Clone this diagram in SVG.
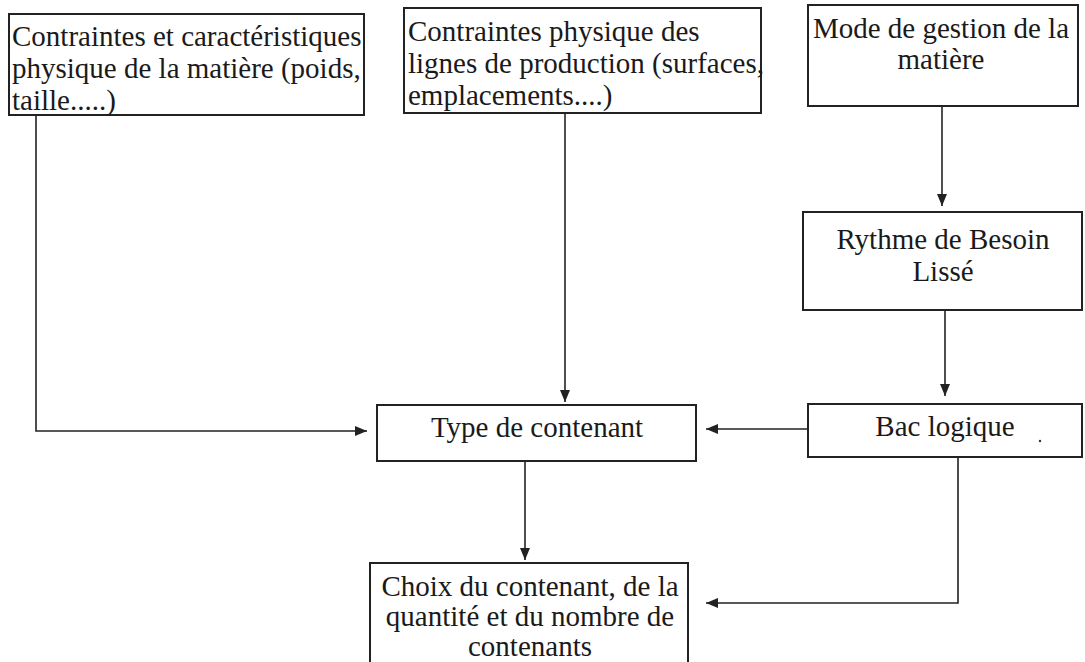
<svg xmlns="http://www.w3.org/2000/svg" width="1085" height="662" viewBox="0 0 1085 662">
<defs>
<style>
.box{fill:#fff;stroke:#222;stroke-width:2}
.t{font-family:"Liberation Serif","Times New Roman",serif;font-size:29px;fill:#1a1a1a}
.c{text-anchor:middle}
.ln{fill:none;stroke:#222;stroke-width:1.6}
</style>
<marker id="ah" viewBox="0 0 12 10" refX="12" refY="5" markerWidth="12" markerHeight="10" markerUnits="userSpaceOnUse" orient="auto">
<path d="M0,0 L12,5 L0,10 z" fill="#222"/>
</marker>
</defs>
<rect width="1085" height="662" fill="#fff"/>
<g id="connectors">
<polyline class="ln" points="36,116 36,431 367,431" marker-end="url(#ah)"/>
<line class="ln" x1="565" y1="114" x2="565" y2="402" marker-end="url(#ah)"/>
<line class="ln" x1="942" y1="107" x2="942" y2="206" marker-end="url(#ah)"/>
<line class="ln" x1="945" y1="311" x2="945" y2="396" marker-end="url(#ah)"/>
<line class="ln" x1="855" y1="429" x2="706" y2="429" marker-end="url(#ah)"/>
<line class="ln" x1="525" y1="462" x2="525" y2="560" marker-end="url(#ah)"/>
<polyline class="ln" points="958,458 958,603 706,603" marker-end="url(#ah)"/>
</g>
<g id="n1">
<rect class="box" x="9" y="14" width="355" height="101"/>
<text class="t" x="12" y="46">Contraintes et caractéristiques</text>
<text class="t" x="12" y="78">physique de la matière (poids,</text>
<text class="t" x="12" y="110">taille.....)</text>
</g>
<g id="n2">
<rect class="box" x="404" y="8" width="357" height="105"/>
<text class="t" x="408" y="41">Contraintes physique des</text>
<text class="t" x="408" y="73">lignes de production (surfaces,</text>
<text class="t" x="408" y="105">emplacements....)</text>
</g>
<g id="n3">
<rect class="box" x="808" y="5" width="270" height="101"/>
<text class="t c" x="941" y="38">Mode de gestion de la</text>
<text class="t c" x="941" y="69">matière</text>
</g>
<g id="n4">
<rect class="box" x="803" y="212" width="279" height="98"/>
<text class="t c" x="943" y="249">Rythme de Besoin</text>
<text class="t c" x="943" y="281">Lissé</text>
</g>
<g id="n5">
<rect class="box" x="377" y="405" width="319" height="56"/>
<text class="t c" x="537" y="437">Type de contenant</text>
</g>
<g id="n6">
<rect class="box" x="808" y="404" width="274" height="53"/>
<text class="t c" x="945" y="436">Bac logique</text>
<circle cx="1040" cy="441" r="1.2" fill="#333"/>
</g>
<g id="n7">
<rect class="box" x="370" y="563" width="318" height="110"/>
<text class="t c" x="530" y="596">Choix du contenant, de la</text>
<text class="t c" x="530" y="626">quantité et du nombre de</text>
<text class="t c" x="530" y="656">contenants</text>
</g>
</svg>
